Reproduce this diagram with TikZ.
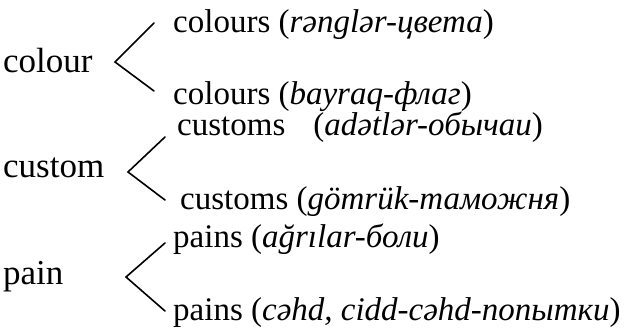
\documentclass[tikz,border=0pt]{standalone}
\usepackage{fontspec}
\setmainfont{Liberation Serif}
\begin{document}
\begin{tikzpicture}[x=1pt,y=1pt,
  head/.style={inner sep=0pt, anchor=base west, font=\fontsize{35}{40}\selectfont},
  word/.style={inner sep=0pt, anchor=base west, font=\fontsize{33}{38}\selectfont},
  fork/.style={line width=1.6pt, line join=miter, line cap=round}]
\useasboundingbox (0,0) rectangle (627,-331);

% headwords
\node[head] (colour) at (3,-73)  {colour};
\node[head] (custom) at (3,-178) {custom};
\node[head] (pain)   at (3,-285) {pain};

% plural readings
\node[word] (colourA) at (173,-33)  {colours (\textit{rənglər-цвета})};
\node[word] (colourB) at (173,-105) {colours (\textit{bayraq-флаг})};
\node[word] (customA) at (177,-136) {customs\hspace{0.85em}(\textit{adətlər-обычаи})};
\node[word] (customB) at (180,-210) {customs (\textit{gömrük-таможня})};
\node[word] (painA)   at (173,-248) {pains (\textit{ağrılar-боли})};
\node[word] (painB)   at (173,-320) {pains (\textit{cəhd, cidd-cəhd-попытки})};

% fork vertices and branch ends
\coordinate (colourV) at (115,-62);
\coordinate (colourU) at (154,-23);
\coordinate (colourL) at (154,-91);
\coordinate (customV) at (128,-172);
\coordinate (customU) at (165,-137);
\coordinate (customL) at (165,-200);
\coordinate (painV)   at (126,-277);
\coordinate (painU)   at (165,-243);
\coordinate (painL)   at (165,-311);

\draw[fork] (colourU) -- (colourV) -- (colourL);
\draw[fork] (customU) -- (customV) -- (customL);
\draw[fork] (painU) -- (painV) -- (painL);
\end{tikzpicture}
\end{document}
